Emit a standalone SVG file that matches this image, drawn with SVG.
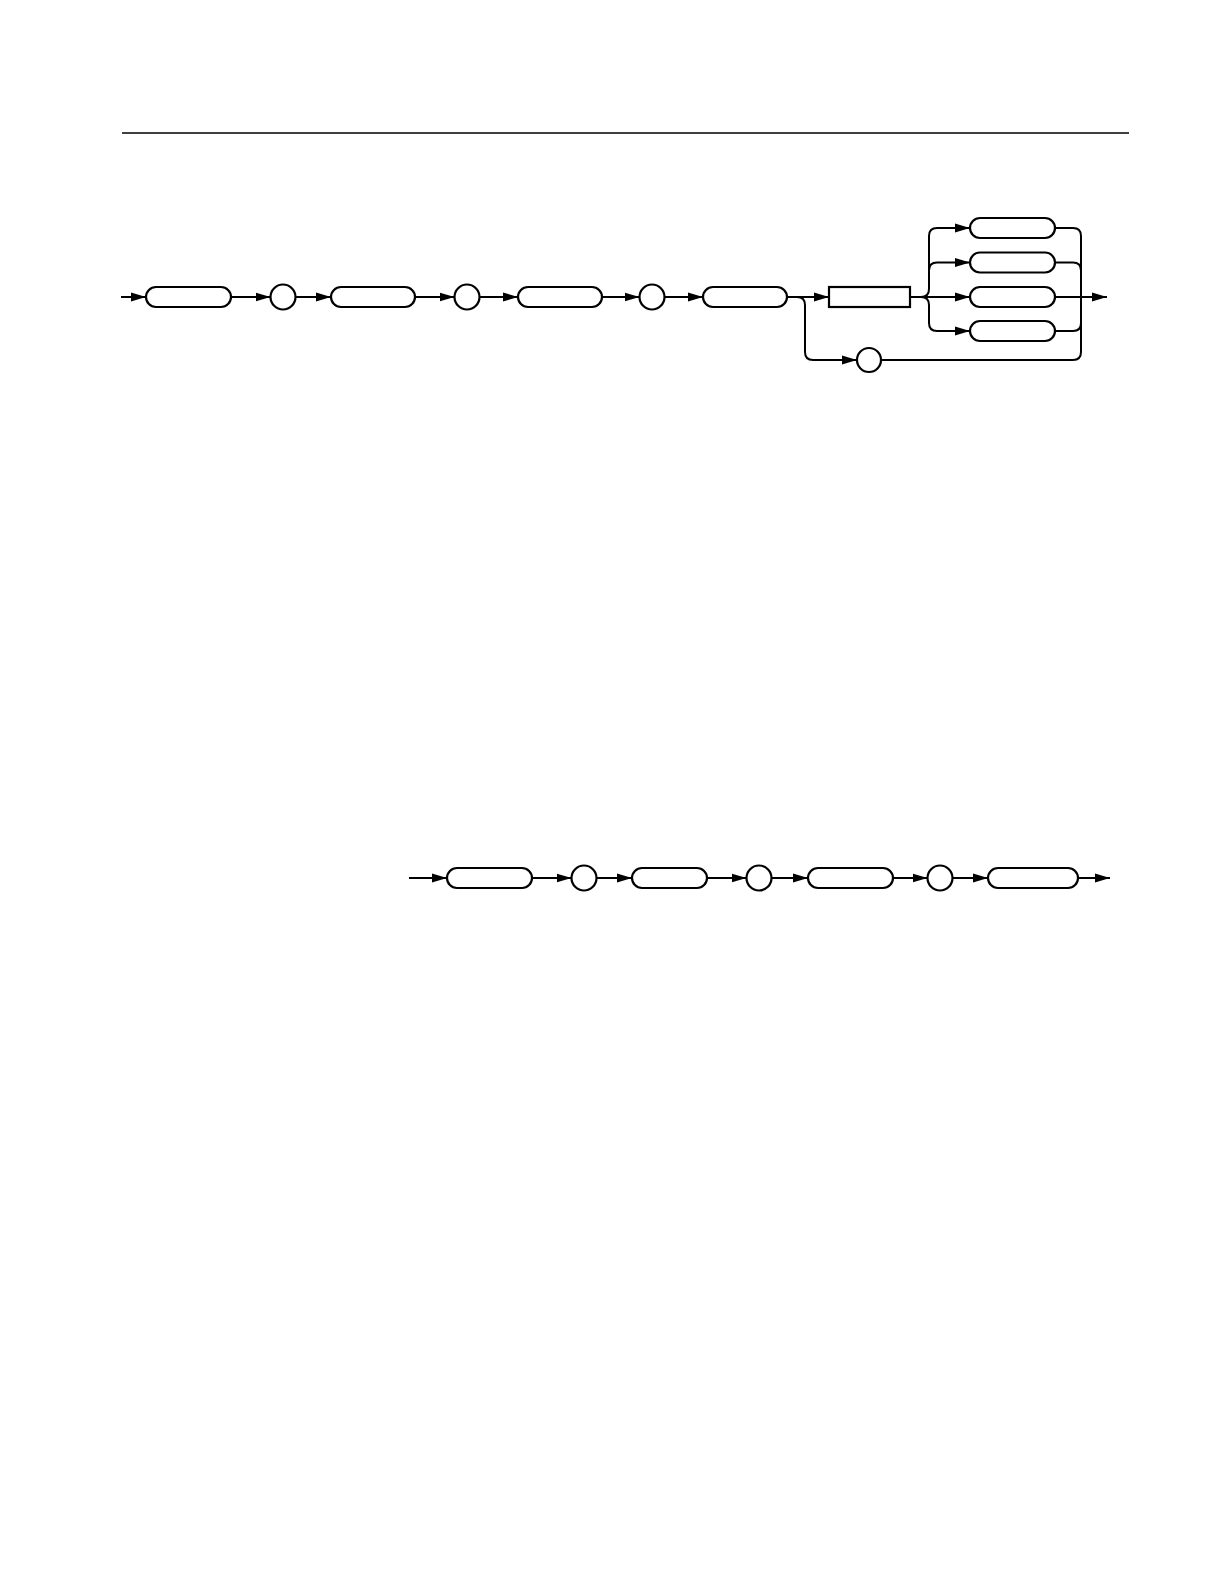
<svg xmlns="http://www.w3.org/2000/svg" width="1224" height="1584" viewBox="0 0 1224 1584">
<style>
.n{fill:#fff;stroke:#000;stroke-width:2.2}
.c{fill:none;stroke:#000;stroke-width:2}
</style>
<defs>
<marker id="a" markerUnits="userSpaceOnUse" markerWidth="15" markerHeight="10" refX="15" refY="5" orient="auto">
<path d="M0,0.5 L15,5 L0,9.5 z" fill="#000"/>
</marker>
</defs>
<rect width="1224" height="1584" fill="#fff"/>
<line x1="122" y1="133" x2="1129" y2="133" stroke="#000" stroke-width="1.5"/>
<g id="connectors">
<path class="c" d="M121,297 H146" marker-end="url(#a)"/>
<path class="c" d="M231,297 H270.5" marker-end="url(#a)"/>
<path class="c" d="M295.5,297 H331" marker-end="url(#a)"/>
<path class="c" d="M415,297 H454.5" marker-end="url(#a)"/>
<path class="c" d="M479.5,297 H518" marker-end="url(#a)"/>
<path class="c" d="M602,297 H639.5" marker-end="url(#a)"/>
<path class="c" d="M664.5,297 H703" marker-end="url(#a)"/>
<path class="c" d="M787,297 H829" marker-end="url(#a)"/>
<path class="c" d="M797,297 Q805,297 805,305 V352 Q805,360 813,360 H857" marker-end="url(#a)"/>
<path class="c" d="M910,297 H970" marker-end="url(#a)"/>
<path class="c" d="M921,297 Q929,297 929,289 V236 Q929,228 937,228 H970" marker-end="url(#a)"/>
<path class="c" d="M929,270.5 Q929,262.5 937,262.5 H970" marker-end="url(#a)"/>
<path class="c" d="M921,297 Q929,297 929,305 V323 Q929,331 937,331 H970" marker-end="url(#a)"/>
<path class="c" d="M1055,228 H1073 Q1081,228 1081,236 V352 Q1081,360 1073,360 H881"/>
<path class="c" d="M1055,262.5 H1073 Q1081,262.5 1081,270.5"/>
<path class="c" d="M1055,331 H1073 Q1081,331 1081,323"/>
<path class="c" d="M1055,297 H1107" marker-end="url(#a)"/>
<path class="c" d="M409,878 H447" marker-end="url(#a)"/>
<path class="c" d="M532,878 H571.5" marker-end="url(#a)"/>
<path class="c" d="M596.5,878 H632" marker-end="url(#a)"/>
<path class="c" d="M707,878 H746.5" marker-end="url(#a)"/>
<path class="c" d="M771.5,878 H808" marker-end="url(#a)"/>
<path class="c" d="M893,878 H927.5" marker-end="url(#a)"/>
<path class="c" d="M952.5,878 H988" marker-end="url(#a)"/>
<path class="c" d="M1078,878 H1110" marker-end="url(#a)"/>
</g>
<g id="t1"><rect class="n" x="146" y="287" width="85" height="20" rx="10"/></g>
<g id="c1"><circle class="n" cx="283" cy="297" r="12.5"/></g>
<g id="t2"><rect class="n" x="331" y="287" width="84" height="20" rx="10"/></g>
<g id="c2"><circle class="n" cx="467" cy="297" r="12.5"/></g>
<g id="t3"><rect class="n" x="518" y="287" width="84" height="20" rx="10"/></g>
<g id="c3"><circle class="n" cx="652" cy="297" r="12.5"/></g>
<g id="t4"><rect class="n" x="703" y="287" width="84" height="20" rx="10"/></g>
<g id="box"><rect class="n" x="829" y="287" width="81" height="20"/></g>
<g id="o1"><rect class="n" x="970" y="218" width="85" height="20" rx="10"/></g>
<g id="o2"><rect class="n" x="970" y="252.5" width="85" height="20" rx="10"/></g>
<g id="o3"><rect class="n" x="970" y="287" width="85" height="20" rx="10"/></g>
<g id="o4"><rect class="n" x="970" y="321" width="85" height="20" rx="10"/></g>
<g id="c4"><circle class="n" cx="869" cy="360" r="12"/></g>
<g id="u1"><rect class="n" x="447" y="868" width="85" height="20" rx="10"/></g>
<g id="d1"><circle class="n" cx="584" cy="878" r="12.5"/></g>
<g id="u2"><rect class="n" x="632" y="868" width="75" height="20" rx="10"/></g>
<g id="d2"><circle class="n" cx="759" cy="878" r="12.5"/></g>
<g id="u3"><rect class="n" x="808" y="868" width="85" height="20" rx="10"/></g>
<g id="d3"><circle class="n" cx="940" cy="878" r="12.5"/></g>
<g id="u4"><rect class="n" x="988" y="868" width="90" height="20" rx="10"/></g>
</svg>
